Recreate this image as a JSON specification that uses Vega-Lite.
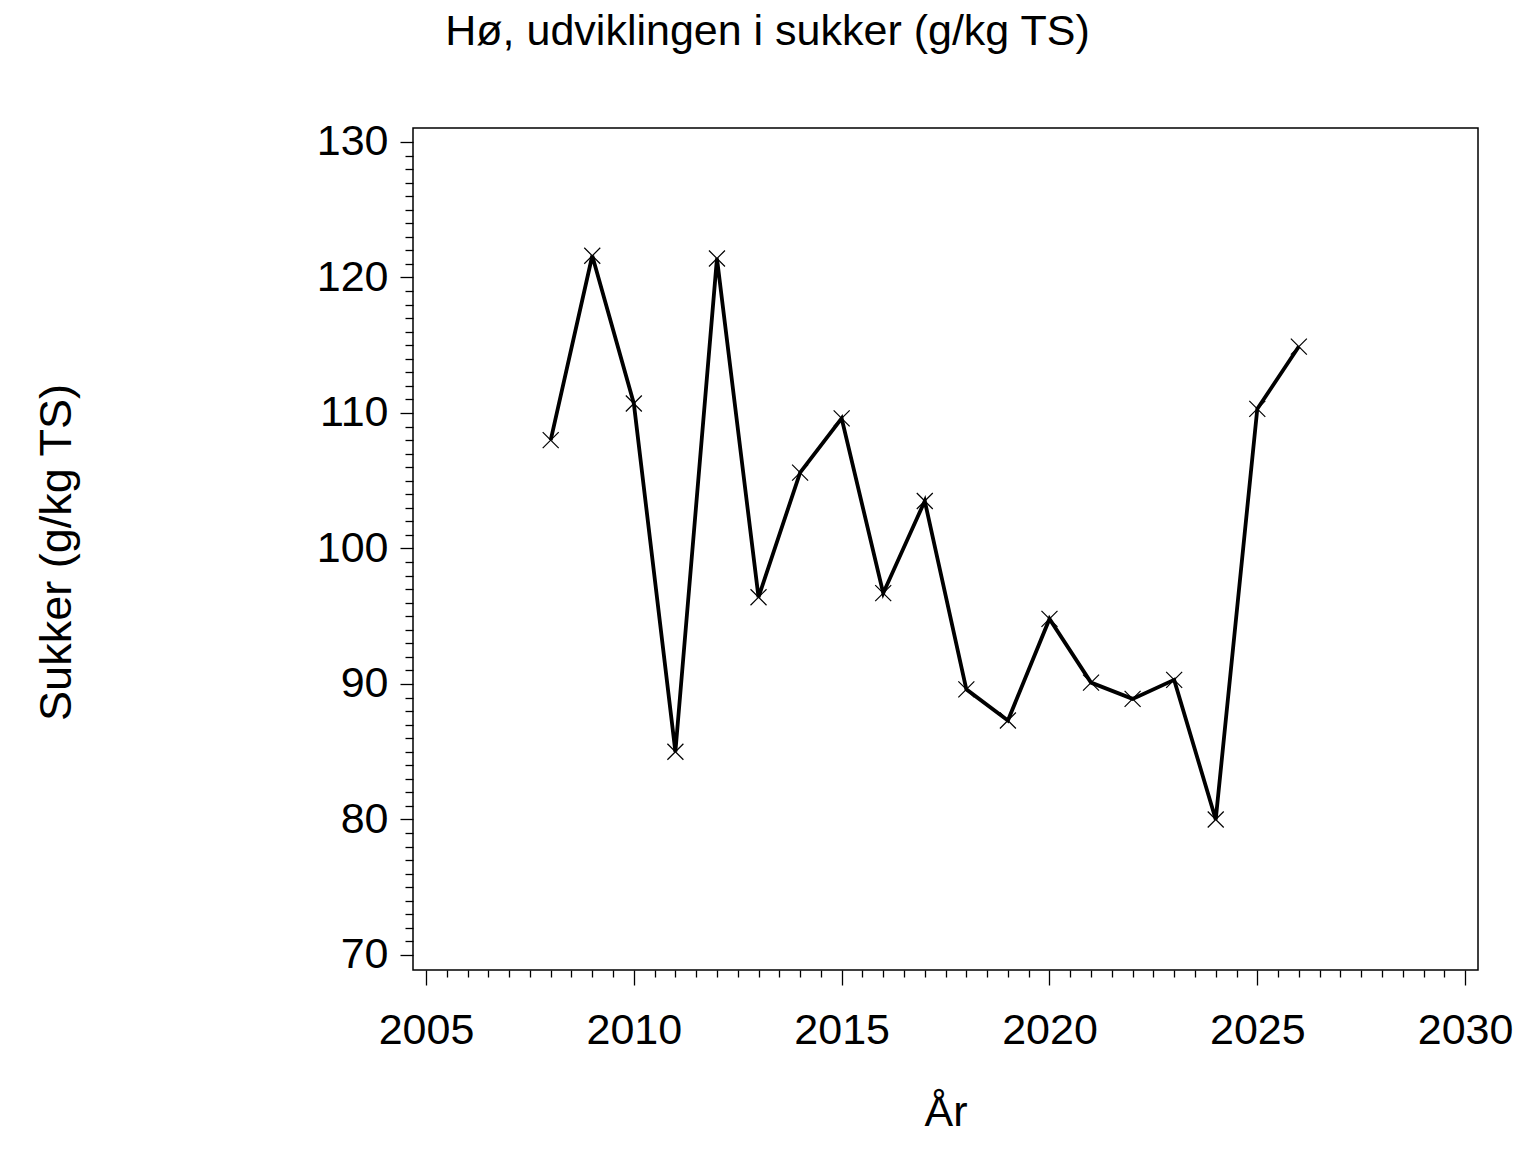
{
  "$schema": "https://vega.github.io/schema/vega-lite/v6.json",
  "autosize": "none",
  "width": 1065,
  "height": 842,
  "padding": {"left": 413, "top": 128, "right": 58, "bottom": 182},
  "background": "white",
  "title": {
    "text": "Hø, udviklingen i sukker (g/kg TS)",
    "font": "Liberation Sans",
    "fontSize": 43,
    "fontWeight": "normal",
    "color": "black",
    "anchor": "middle",
    "dx": -178,
    "baseline": "alphabetic",
    "offset": 33
  },
  "data": {
    "values": [
      {"aar": 2008, "sukker": 108.0},
      {"aar": 2009, "sukker": 121.6},
      {"aar": 2010, "sukker": 110.7},
      {"aar": 2011, "sukker": 85.0},
      {"aar": 2012, "sukker": 121.4},
      {"aar": 2013, "sukker": 96.4},
      {"aar": 2014, "sukker": 105.6},
      {"aar": 2015, "sukker": 109.6},
      {"aar": 2016, "sukker": 96.7},
      {"aar": 2017, "sukker": 103.5},
      {"aar": 2018, "sukker": 89.6},
      {"aar": 2019, "sukker": 87.3},
      {"aar": 2020, "sukker": 94.8},
      {"aar": 2021, "sukker": 90.1},
      {"aar": 2022, "sukker": 88.9},
      {"aar": 2023, "sukker": 90.3},
      {"aar": 2024, "sukker": 80.0},
      {"aar": 2025, "sukker": 110.3},
      {"aar": 2026, "sukker": 114.9}
    ]
  },
  "encoding": {
    "x": {
      "field": "aar",
      "type": "quantitative",
      "scale": {"domain": [2004.687, 2030.31], "nice": false, "zero": false},
      "axis": {
        "title": "År",
        "values": [2005, 2005.5, 2006, 2006.5, 2007, 2007.5, 2008, 2008.5, 2009, 2009.5,
                   2010, 2010.5, 2011, 2011.5, 2012, 2012.5, 2013, 2013.5, 2014, 2014.5,
                   2015, 2015.5, 2016, 2016.5, 2017, 2017.5, 2018, 2018.5, 2019, 2019.5,
                   2020, 2020.5, 2021, 2021.5, 2022, 2022.5, 2023, 2023.5, 2024, 2024.5,
                   2025, 2025.5, 2026, 2026.5, 2027, 2027.5, 2028, 2028.5, 2029, 2029.5, 2030],
        "labelExpr": "datum.value % 5 === 0 ? format(datum.value, 'd') : ''",
        "tickSize": {"condition": {"test": "datum.value % 5 === 0", "value": 15}, "value": 7},
        "labelPadding": 24,
        "titleY": 155,
        "titleBaseline": "alphabetic"
      }
    },
    "y": {
      "field": "sukker",
      "type": "quantitative",
      "scale": {"domain": [68.89, 131.03], "nice": false, "zero": false},
      "axis": {
        "title": "Sukker (g/kg TS)",
        "values": [70, 71, 72, 73, 74, 75, 76, 77, 78, 79, 80, 81, 82, 83, 84, 85, 86, 87, 88, 89,
                   90, 91, 92, 93, 94, 95, 96, 97, 98, 99, 100, 101, 102, 103, 104, 105, 106, 107, 108, 109,
                   110, 111, 112, 113, 114, 115, 116, 117, 118, 119, 120, 121, 122, 123, 124, 125, 126, 127, 128, 129, 130],
        "labelExpr": "datum.value % 10 === 0 ? format(datum.value, 'd') : ''",
        "tickSize": {"condition": {"test": "datum.value % 10 === 0", "value": 13}, "value": 8},
        "labelPadding": 12,
        "titleX": -343,
        "titleY": 424,
        "titleAngle": -90,
        "titleBaseline": "alphabetic",
        "titleFontSize": 45
      }
    }
  },
  "layer": [
    {"mark": {"type": "line", "color": "black", "strokeWidth": 3.8}},
    {
      "mark": {
        "type": "point",
        "shape": "M-1,-1L1,1M1,-1L-1,1",
        "size": 256,
        "filled": false,
        "stroke": "black",
        "strokeWidth": 1.2,
        "opacity": 1
      }
    }
  ],
  "config": {
    "view": {"stroke": "black", "strokeWidth": 1.5},
    "axis": {
      "domain": false,
      "grid": false,
      "tickColor": "black",
      "tickWidth": 1.3,
      "labelFont": "Liberation Sans",
      "labelFontSize": 43,
      "labelColor": "black",
      "labelOverlap": false,
      "labelFlush": false,
      "titleFont": "Liberation Sans",
      "titleFontSize": 43,
      "titleFontWeight": "normal",
      "titleColor": "black",
      "titlePadding": 0
    }
  }
}
